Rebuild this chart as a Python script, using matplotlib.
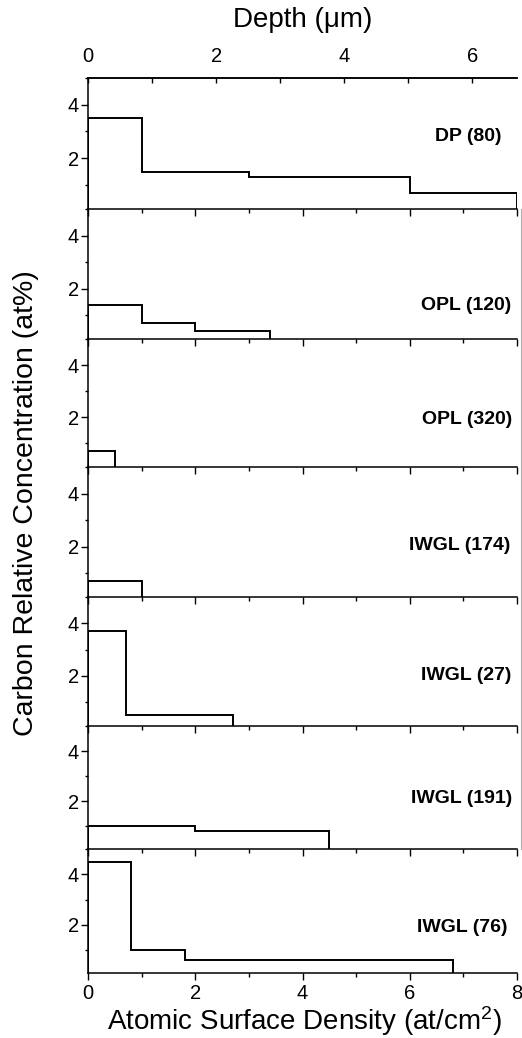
import matplotlib
matplotlib.use('Agg')
import matplotlib.pyplot as plt
from matplotlib.ticker import MultipleLocator

plt.rcParams['font.family'] = ['Liberation Sans', 'DejaVu Sans']
plt.rcParams['mathtext.default'] = 'regular'

# step profiles: bin edges (at/cm2, bottom axis) and carbon conc. (at%)
names = ['DP (80)', 'OPL (120)', 'OPL (320)', 'IWGL (174)',
         'IWGL (27)', 'IWGL (191)', 'IWGL (76)']
edges = [
    [0, 1.0, 3.0, 6.0, 8.0],
    [0, 1.0, 2.0, 3.4],
    [0, 0.5],
    [0, 1.0],
    [0, 0.7, 2.7],
    [0, 2.0, 4.5],
    [0, 0.8, 1.8, 6.8],
]
conc = [
    [3.5, 1.5, 1.3, 0.7],
    [1.4, 0.7, 0.4],
    [0.7],
    [0.7],
    [3.7, 0.5],
    [1.0, 0.8],
    [4.5, 1.0, 0.6],
]
depth_per_unit = 1 / 1.1945   # um per surface-density unit (top axis)

# layout (pixels from the top of a 522x1038 figure)
W, H = 522, 1038
left_px, right_px = 88, 517
bounds = [78, 209, 339, 467, 597, 726, 849, 973]
label_xy = [(7.72, 2.80), (7.90, 1.37), (7.92, 1.91), (7.88, 2.06),
            (7.90, 2.00), (7.92, 2.10), (7.83, 1.91)]

fig = plt.figure(figsize=(W / 100, H / 100), dpi=100)
axes = []
for i in range(len(names)):
    top, bot = bounds[i], bounds[i + 1]
    ax = fig.add_axes([left_px / W, 1 - bot / H, (right_px - left_px) / W, (bot - top) / H])
    ax.stairs(conc[i], edges[i], baseline=0, color='black', lw=1.4)
    ax.set_xlim(0, 8)
    ax.set_ylim(0.1, 5.0)
    ax.yaxis.set_major_locator(MultipleLocator(2))
    ax.yaxis.set_minor_locator(MultipleLocator(1))
    ax.xaxis.set_major_locator(MultipleLocator(2))
    ax.xaxis.set_minor_locator(MultipleLocator(1))
    ax.tick_params(axis='y', which='major', direction='out', length=5, width=1, pad=1.5, labelsize=14.5)
    ax.tick_params(axis='y', which='minor', direction='out', length=2.5, width=1)
    ax.tick_params(axis='x', which='major', direction='out', length=5, width=1, pad=3, labelsize=14.5)
    ax.tick_params(axis='x', which='minor', direction='out', length=3, width=1)
    for s in ['left', 'bottom', 'top']:
        ax.spines[s].set_linewidth(1.1)
    if i > 0:
        ax.spines['top'].set_visible(False)
    if 1 <= i <= 5:
        ax.spines['right'].set_position(('outward', 3))
        ax.spines['right'].set_color('#b0b0b0')
        ax.spines['right'].set_linewidth(0.8)
    else:
        ax.spines['right'].set_visible(False)
    if i < len(names) - 1:
        ax.tick_params(axis='x', labelbottom=False)
    ax.set_facecolor('none')
    lx, ly = label_xy[i]
    ax.text(lx, ly, names[i], ha='right', va='center', fontsize=14, fontweight='bold')
    axes.append(ax)

# depth scale on top of the first panel
top_ax = axes[0].twiny()
top_ax.set_xlim(0, 8 * depth_per_unit)
top_ax.xaxis.set_major_locator(MultipleLocator(2))
top_ax.xaxis.set_minor_locator(MultipleLocator(1))
top_ax.tick_params(axis='x', which='major', direction='in', length=3.5, width=1, pad=9, labelsize=14.5)
top_ax.tick_params(axis='x', which='minor', direction='in', length=3.5, width=1)
for s in ['left', 'right', 'bottom']:
    top_ax.spines[s].set_visible(False)
top_ax.spines['top'].set_linewidth(1.1)

cx = (left_px + right_px) / 2 / W
fig.text(cx, 1 - 26.7 / H, 'Depth (\u03bcm)', ha='center', va='baseline', fontsize=20)
fig.text(304 / W, 1 - 1030 / H, 'Atomic Surface Density (at/cm$^{2}$)',
         ha='center', va='baseline', fontsize=20)
fig.text(26 / W, 1 - 503.5 / H, 'Carbon Relative Concentration (at%)',
         rotation=90, ha='center', va='center', fontsize=20.5)

fig.savefig('out.png', dpi=100)
